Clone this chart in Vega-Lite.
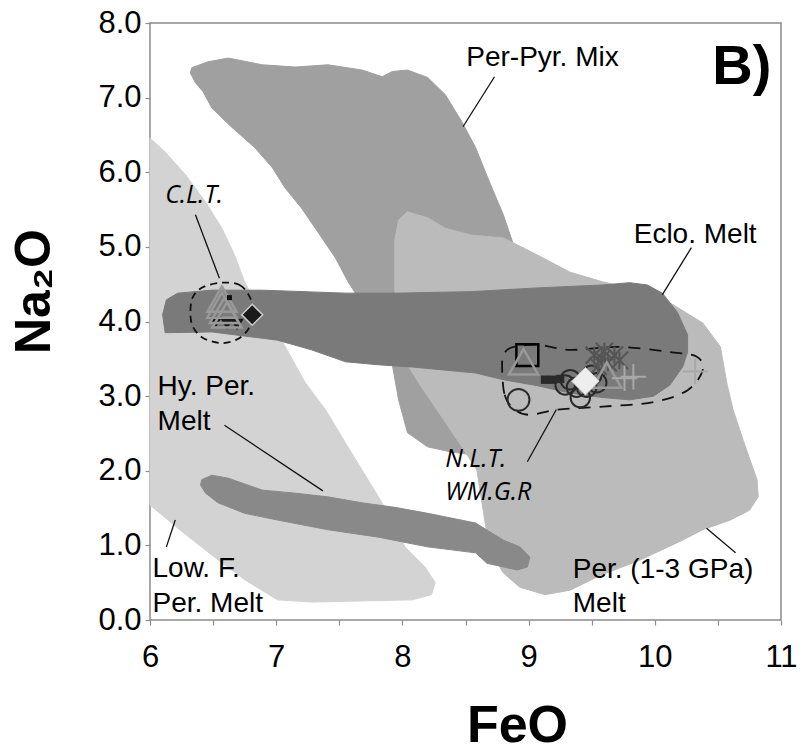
{
  "$schema": "https://vega.github.io/schema/vega-lite/v6.json",
  "width": 631,
  "height": 597,
  "autosize": {"type": "none"},
  "padding": {"left": 150, "top": 23, "right": 24, "bottom": 135},
  "background": "white",
  "config": {
    "view": {"stroke": "#8c8c8c", "strokeWidth": 1.5},
    "font": "Liberation Sans",
    "axis": {"grid": false, "domain": false, "tickColor": "#8c8c8c", "tickSize": 5, "tickWidth": 1.2, "labelColor": "#000000", "labelFont": "Liberation Sans", "labelFontSize": 31, "titleFont": "Liberation Sans", "titleFontWeight": "bold", "titleFontSize": 52, "titleColor": "#000000", "labelOverlap": false, "labelFlush": false}
  },
  "datasets": {
    "poly": [
      {"r":"LowF","i":0,"x":6.00,"y":6.46},{"r":"LowF","i":1,"x":6.12,"y":6.27},{"r":"LowF","i":2,"x":6.28,"y":5.97},{"r":"LowF","i":3,"x":6.44,"y":5.60},{"r":"LowF","i":4,"x":6.57,"y":5.25},{"r":"LowF","i":5,"x":6.67,"y":4.89},{"r":"LowF","i":6,"x":6.75,"y":4.53},{"r":"LowF","i":7,"x":6.89,"y":4.09},{"r":"LowF","i":8,"x":7.05,"y":3.73},{"r":"LowF","i":9,"x":7.23,"y":3.18},{"r":"LowF","i":10,"x":7.39,"y":2.82},{"r":"LowF","i":11,"x":7.55,"y":2.37},{"r":"LowF","i":12,"x":7.68,"y":2.01},{"r":"LowF","i":13,"x":7.81,"y":1.65},{"r":"LowF","i":14,"x":7.92,"y":1.34},{"r":"LowF","i":15,"x":8.02,"y":0.98},{"r":"LowF","i":16,"x":8.18,"y":0.71},{"r":"LowF","i":17,"x":8.26,"y":0.50},{"r":"LowF","i":18,"x":8.23,"y":0.34},{"r":"LowF","i":19,"x":8.08,"y":0.27},{"r":"LowF","i":20,"x":7.28,"y":0.24},{"r":"LowF","i":21,"x":7.01,"y":0.27},{"r":"LowF","i":22,"x":6.75,"y":0.54},{"r":"LowF","i":23,"x":6.49,"y":0.87},{"r":"LowF","i":24,"x":6.22,"y":1.23},{"r":"LowF","i":25,"x":6.00,"y":1.54},
      {"r":"PerPyr","i":0,"x":6.32,"y":7.33},{"r":"PerPyr","i":1,"x":6.33,"y":7.40},{"r":"PerPyr","i":2,"x":6.46,"y":7.48},{"r":"PerPyr","i":3,"x":6.62,"y":7.53},{"r":"PerPyr","i":4,"x":6.89,"y":7.44},{"r":"PerPyr","i":5,"x":7.15,"y":7.41},{"r":"PerPyr","i":6,"x":7.41,"y":7.44},{"r":"PerPyr","i":7,"x":7.68,"y":7.37},{"r":"PerPyr","i":8,"x":7.84,"y":7.28},{"r":"PerPyr","i":9,"x":7.92,"y":7.35},{"r":"PerPyr","i":10,"x":8.04,"y":7.37},{"r":"PerPyr","i":11,"x":8.20,"y":7.27},{"r":"PerPyr","i":12,"x":8.34,"y":7.04},{"r":"PerPyr","i":13,"x":8.47,"y":6.68},{"r":"PerPyr","i":14,"x":8.58,"y":6.33},{"r":"PerPyr","i":15,"x":8.69,"y":5.87},{"r":"PerPyr","i":16,"x":8.80,"y":5.43},{"r":"PerPyr","i":17,"x":8.88,"y":5.03},{"r":"PerPyr","i":18,"x":8.97,"y":4.42},{"r":"PerPyr","i":19,"x":9.01,"y":3.75},{"r":"PerPyr","i":20,"x":8.77,"y":2.95},{"r":"PerPyr","i":21,"x":8.58,"y":2.21},{"r":"PerPyr","i":22,"x":8.39,"y":2.25},{"r":"PerPyr","i":23,"x":8.20,"y":2.32},{"r":"PerPyr","i":24,"x":8.04,"y":2.51},{"r":"PerPyr","i":25,"x":7.97,"y":2.95},{"r":"PerPyr","i":26,"x":7.92,"y":3.42},{"r":"PerPyr","i":27,"x":7.74,"y":4.02},{"r":"PerPyr","i":28,"x":7.62,"y":4.40},{"r":"PerPyr","i":29,"x":7.57,"y":4.53},{"r":"PerPyr","i":30,"x":7.47,"y":4.85},{"r":"PerPyr","i":31,"x":7.33,"y":5.20},{"r":"PerPyr","i":32,"x":7.20,"y":5.52},{"r":"PerPyr","i":33,"x":7.07,"y":5.79},{"r":"PerPyr","i":34,"x":6.97,"y":6.06},{"r":"PerPyr","i":35,"x":6.83,"y":6.33},{"r":"PerPyr","i":36,"x":6.65,"y":6.60},{"r":"PerPyr","i":37,"x":6.49,"y":6.86},{"r":"PerPyr","i":38,"x":6.42,"y":7.08},{"r":"PerPyr","i":39,"x":6.36,"y":7.20},
      {"r":"Per13","i":0,"x":7.94,"y":4.42},{"r":"Per13","i":1,"x":7.94,"y":5.09},{"r":"Per13","i":2,"x":7.97,"y":5.36},{"r":"Per13","i":3,"x":8.04,"y":5.47},{"r":"Per13","i":4,"x":8.20,"y":5.39},{"r":"Per13","i":5,"x":8.34,"y":5.25},{"r":"Per13","i":6,"x":8.54,"y":5.16},{"r":"Per13","i":7,"x":8.80,"y":5.12},{"r":"Per13","i":8,"x":9.07,"y":4.89},{"r":"Per13","i":9,"x":9.33,"y":4.66},{"r":"Per13","i":10,"x":9.59,"y":4.53},{"r":"Per13","i":11,"x":9.88,"y":4.42},{"r":"Per13","i":12,"x":10.12,"y":4.25},{"r":"Per13","i":13,"x":10.38,"y":3.98},{"r":"Per13","i":14,"x":10.52,"y":3.66},{"r":"Per13","i":15,"x":10.57,"y":3.18},{"r":"Per13","i":16,"x":10.62,"y":2.82},{"r":"Per13","i":17,"x":10.70,"y":2.41},{"r":"Per13","i":18,"x":10.81,"y":1.88},{"r":"Per13","i":19,"x":10.82,"y":1.65},{"r":"Per13","i":20,"x":10.75,"y":1.47},{"r":"Per13","i":21,"x":10.60,"y":1.34},{"r":"Per13","i":22,"x":10.38,"y":1.21},{"r":"Per13","i":23,"x":10.22,"y":1.07},{"r":"Per13","i":24,"x":9.88,"y":0.80},{"r":"Per13","i":25,"x":9.57,"y":0.60},{"r":"Per13","i":26,"x":9.33,"y":0.40},{"r":"Per13","i":27,"x":9.13,"y":0.34},{"r":"Per13","i":28,"x":8.93,"y":0.44},{"r":"Per13","i":29,"x":8.80,"y":0.63},{"r":"Per13","i":30,"x":8.69,"y":0.94},{"r":"Per13","i":31,"x":8.64,"y":1.47},{"r":"Per13","i":32,"x":8.59,"y":2.01},{"r":"Per13","i":33,"x":8.46,"y":2.35},{"r":"Per13","i":34,"x":8.30,"y":2.75},{"r":"Per13","i":35,"x":8.14,"y":3.15},{"r":"Per13","i":36,"x":8.04,"y":3.42},{"r":"Per13","i":37,"x":7.98,"y":3.75},
      {"r":"HyPer","i":0,"x":6.41,"y":1.88},{"r":"HyPer","i":1,"x":6.49,"y":1.94},{"r":"HyPer","i":2,"x":6.62,"y":1.90},{"r":"HyPer","i":3,"x":6.89,"y":1.74},{"r":"HyPer","i":4,"x":7.15,"y":1.70},{"r":"HyPer","i":5,"x":7.41,"y":1.65},{"r":"HyPer","i":6,"x":7.68,"y":1.57},{"r":"HyPer","i":7,"x":7.94,"y":1.51},{"r":"HyPer","i":8,"x":8.20,"y":1.43},{"r":"HyPer","i":9,"x":8.58,"y":1.30},{"r":"HyPer","i":10,"x":8.80,"y":1.07},{"r":"HyPer","i":11,"x":8.93,"y":0.98},{"r":"HyPer","i":12,"x":9.01,"y":0.84},{"r":"HyPer","i":13,"x":8.99,"y":0.71},{"r":"HyPer","i":14,"x":8.91,"y":0.67},{"r":"HyPer","i":15,"x":8.67,"y":0.76},{"r":"HyPer","i":16,"x":8.58,"y":0.90},{"r":"HyPer","i":17,"x":8.20,"y":0.98},{"r":"HyPer","i":18,"x":7.81,"y":1.11},{"r":"HyPer","i":19,"x":7.41,"y":1.21},{"r":"HyPer","i":20,"x":7.01,"y":1.34},{"r":"HyPer","i":21,"x":6.75,"y":1.43},{"r":"HyPer","i":22,"x":6.54,"y":1.57},{"r":"HyPer","i":23,"x":6.44,"y":1.70},{"r":"HyPer","i":24,"x":6.40,"y":1.81},
      {"r":"Eclo","i":0,"x":6.13,"y":4.29},{"r":"Eclo","i":1,"x":6.22,"y":4.38},{"r":"Eclo","i":2,"x":6.49,"y":4.42},{"r":"Eclo","i":3,"x":6.89,"y":4.42},{"r":"Eclo","i":4,"x":7.55,"y":4.38},{"r":"Eclo","i":5,"x":7.94,"y":4.38},{"r":"Eclo","i":6,"x":8.54,"y":4.40},{"r":"Eclo","i":7,"x":9.07,"y":4.45},{"r":"Eclo","i":8,"x":9.59,"y":4.49},{"r":"Eclo","i":9,"x":9.80,"y":4.52},{"r":"Eclo","i":10,"x":9.94,"y":4.49},{"r":"Eclo","i":11,"x":10.06,"y":4.38},{"r":"Eclo","i":12,"x":10.18,"y":4.12},{"r":"Eclo","i":13,"x":10.26,"y":3.82},{"r":"Eclo","i":14,"x":10.26,"y":3.59},{"r":"Eclo","i":15,"x":10.22,"y":3.39},{"r":"Eclo","i":16,"x":10.12,"y":3.15},{"r":"Eclo","i":17,"x":9.99,"y":3.00},{"r":"Eclo","i":18,"x":9.80,"y":2.95},{"r":"Eclo","i":19,"x":9.59,"y":2.98},{"r":"Eclo","i":20,"x":9.33,"y":3.04},{"r":"Eclo","i":21,"x":9.07,"y":3.14},{"r":"Eclo","i":22,"x":8.80,"y":3.22},{"r":"Eclo","i":23,"x":8.58,"y":3.31},{"r":"Eclo","i":24,"x":8.08,"y":3.39},{"r":"Eclo","i":25,"x":7.81,"y":3.42},{"r":"Eclo","i":26,"x":7.55,"y":3.46},{"r":"Eclo","i":27,"x":7.28,"y":3.62},{"r":"Eclo","i":28,"x":7.01,"y":3.75},{"r":"Eclo","i":29,"x":6.49,"y":3.86},{"r":"Eclo","i":30,"x":6.12,"y":3.85},{"r":"Eclo","i":31,"x":6.10,"y":4.09},
      {"r":"CLTe","i":0,"x":6.57,"y":4.52},{"r":"CLTe","i":1,"x":6.71,"y":4.49},{"r":"CLTe","i":2,"x":6.79,"y":4.33},{"r":"CLTe","i":3,"x":6.82,"y":4.12},{"r":"CLTe","i":4,"x":6.79,"y":3.93},{"r":"CLTe","i":5,"x":6.71,"y":3.78},{"r":"CLTe","i":6,"x":6.57,"y":3.71},{"r":"CLTe","i":7,"x":6.42,"y":3.78},{"r":"CLTe","i":8,"x":6.34,"y":3.93},{"r":"CLTe","i":9,"x":6.32,"y":4.12},{"r":"CLTe","i":10,"x":6.34,"y":4.33},{"r":"CLTe","i":11,"x":6.42,"y":4.46},
      {"r":"NLTe","i":0,"x":8.79,"y":3.42},{"r":"NLTe","i":1,"x":8.81,"y":3.02},{"r":"NLTe","i":2,"x":8.89,"y":2.82},{"r":"NLTe","i":3,"x":9.01,"y":2.75},{"r":"NLTe","i":4,"x":9.23,"y":2.82},{"r":"NLTe","i":5,"x":9.59,"y":2.86},{"r":"NLTe","i":6,"x":9.99,"y":2.92},{"r":"NLTe","i":7,"x":10.26,"y":3.08},{"r":"NLTe","i":8,"x":10.38,"y":3.35},{"r":"NLTe","i":9,"x":10.33,"y":3.53},{"r":"NLTe","i":10,"x":10.12,"y":3.59},{"r":"NLTe","i":11,"x":9.72,"y":3.66},{"r":"NLTe","i":12,"x":9.33,"y":3.62},{"r":"NLTe","i":13,"x":9.07,"y":3.69},{"r":"NLTe","i":14,"x":8.88,"y":3.66},{"r":"NLTe","i":15,"x":8.81,"y":3.58}
    ],
    "lead": [
      {"id":1,"i":0,"x":8.73,"y":7.28},{"id":1,"i":1,"x":8.48,"y":6.61},
      {"id":2,"i":0,"x":10.29,"y":4.99},{"id":2,"i":1,"x":10.06,"y":4.36},
      {"id":3,"i":0,"x":6.36,"y":5.43},{"id":3,"i":1,"x":6.55,"y":4.58},
      {"id":4,"i":0,"x":6.59,"y":2.61},{"id":4,"i":1,"x":7.37,"y":1.73},
      {"id":5,"i":0,"x":6.20,"y":1.34},{"id":5,"i":1,"x":6.13,"y":0.98},
      {"id":6,"i":0,"x":10.41,"y":1.23},{"id":6,"i":1,"x":10.64,"y":0.90},
      {"id":7,"i":0,"x":8.99,"y":2.12},{"id":7,"i":1,"x":9.22,"y":2.82}
    ],
    "pts": [
      {"k":"dcirc","x":9.33,"y":3.22},{"k":"dcirc","x":9.38,"y":3.12},{"k":"dcirc","x":9.46,"y":3.12},{"k":"dcirc","x":9.54,"y":3.18},{"k":"dcirc","x":9.41,"y":2.98},{"k":"dcirc","x":9.29,"y":3.15},{"k":"dcirc","x":9.50,"y":3.28},
      {"k":"dsq","x":9.13,"y":3.22},{"k":"dsq","x":9.19,"y":3.22},{"k":"dsq","x":9.25,"y":3.23},
      {"k":"xx","x":9.52,"y":3.55},{"k":"xx","x":9.58,"y":3.50},{"k":"xx","x":9.63,"y":3.45},{"k":"xx","x":9.68,"y":3.55},{"k":"xx","x":9.55,"y":3.40},{"k":"xx","x":9.72,"y":3.48},{"k":"xx","x":9.60,"y":3.60},
      {"k":"ocirc","x":8.92,"y":2.95},
      {"k":"bsq","x":8.99,"y":3.55},
      {"k":"btri","x":6.52,"y":3.99},{"k":"btri","x":6.69,"y":3.96},{"k":"btri","x":6.61,"y":3.97},
      {"k":"gtri","x":6.57,"y":4.30},{"k":"gtri","x":6.57,"y":4.22},{"k":"gtri","x":6.59,"y":4.15},{"k":"gtri","x":6.61,"y":4.09},{"k":"gtri","x":8.96,"y":3.46},{"k":"gtri","x":9.62,"y":3.28},
      {"k":"bdia","x":6.81,"y":4.09},
      {"k":"bdot","x":6.63,"y":4.32},
      {"k":"wdia","x":9.45,"y":3.20},
      {"k":"gplus","x":9.76,"y":3.24},{"k":"gplus","x":9.83,"y":3.26},{"k":"gplus","x":10.32,"y":3.33}
    ],
    "txt": [
      {"s":"left","t":"Hy. Per.","x":6.06,"y":3.02},{"s":"left","t":"Melt","x":6.06,"y":2.55},
      {"s":"left","t":"Low. F.","x":6.02,"y":0.58},{"s":"left","t":"Per. Melt","x":6.02,"y":0.11},
      {"s":"left","t":"Per. (1-3 GPa)","x":9.35,"y":0.56},{"s":"left","t":"Melt","x":9.35,"y":0.11},
      {"s":"center","t":"Per-Pyr. Mix","x":9.11,"y":7.43},{"s":"center","t":"Eclo. Melt","x":10.32,"y":5.05},
      {"s":"ital","t":"C.L.T.","x":6.12,"y":5.59},{"s":"ital","t":"N.L.T.","x":8.34,"y":2.05},{"s":"ital","t":"WM.G.R","x":8.34,"y":1.61},
      {"s":"bold","t":"B)","x":10.69,"y":7.18}
    ]
  },
  "encoding": {
    "x": {"field": "x", "type": "quantitative", "scale": {"domain": [6, 11], "nice": false, "zero": false},
      "axis": {"values": [6, 6.5, 7, 7.5, 8, 8.5, 9, 9.5, 10, 10.5, 11], "labelExpr": "datum.value % 1 === 0 ? format(datum.value, 'd') : ''", "labelPadding": 17, "title": "FeO", "titleX": 367, "titleY": 105, "titleBaseline": "middle", "titleAlign": "center"}},
    "y": {"field": "y", "type": "quantitative", "scale": {"domain": [0, 8], "nice": false, "zero": false},
      "axis": {"values": [0, 1, 2, 3, 4, 5, 6, 7, 8], "format": ".1f", "labelPadding": 4, "title": "Na₂O", "titleFontSize": 50, "titleX": -116, "titleY": 268, "titleBaseline": "middle", "titleAlign": "center", "titleAngle": -90}}
  },
  "layer": [
    {"data": {"name": "poly"}, "transform": [{"filter": "datum.r === 'LowF'"}], "mark": {"type": "line", "interpolate": "linear-closed", "fill": "#d3d3d3", "stroke": "#d3d3d3", "strokeWidth": 1}, "encoding": {"order": {"field": "i", "type": "quantitative"}}},
    {"data": {"name": "poly"}, "transform": [{"filter": "datum.r === 'PerPyr'"}], "mark": {"type": "line", "interpolate": "linear-closed", "fill": "#a0a0a0", "stroke": "#a0a0a0", "strokeWidth": 1}, "encoding": {"order": {"field": "i", "type": "quantitative"}}},
    {"data": {"name": "poly"}, "transform": [{"filter": "datum.r === 'Per13'"}], "mark": {"type": "line", "interpolate": "linear-closed", "fill": "#bbbbbb", "stroke": "#bbbbbb", "strokeWidth": 1}, "encoding": {"order": {"field": "i", "type": "quantitative"}}},
    {"data": {"name": "poly"}, "transform": [{"filter": "datum.r === 'HyPer'"}], "mark": {"type": "line", "interpolate": "linear-closed", "fill": "#898989", "stroke": "#898989", "strokeWidth": 1}, "encoding": {"order": {"field": "i", "type": "quantitative"}}},
    {"data": {"name": "poly"}, "transform": [{"filter": "datum.r === 'Eclo'"}], "mark": {"type": "line", "interpolate": "linear-closed", "fill": "#7a7a7a", "stroke": "#7a7a7a", "strokeWidth": 1}, "encoding": {"order": {"field": "i", "type": "quantitative"}}},
    {"data": {"name": "poly"}, "transform": [{"filter": "datum.r === 'CLTe'"}], "mark": {"type": "line", "interpolate": "cardinal-closed", "stroke": "#111111", "strokeWidth": 1.8, "strokeDash": [7, 5]}, "encoding": {"order": {"field": "i", "type": "quantitative"}}},
    {"data": {"name": "poly"}, "transform": [{"filter": "datum.r === 'NLTe'"}], "mark": {"type": "line", "interpolate": "cardinal-closed", "stroke": "#111111", "strokeWidth": 1.8, "strokeDash": [12, 9]}, "encoding": {"order": {"field": "i", "type": "quantitative"}}},
    {"data": {"name": "lead"}, "mark": {"type": "line", "stroke": "#111111", "strokeWidth": 1.3}, "encoding": {"detail": {"field": "id", "type": "nominal"}, "order": {"field": "i", "type": "quantitative"}}},
    {"data": {"name": "pts"}, "transform": [{"filter": "datum.k === 'dcirc'"}], "mark": {"type": "point", "shape": "circle", "size": 380, "filled": false, "stroke": "#2a2a2a", "strokeWidth": 2, "opacity": 1}},
    {"data": {"name": "pts"}, "transform": [{"filter": "datum.k === 'dsq'"}], "mark": {"type": "point", "shape": "square", "size": 70, "filled": true, "fill": "#2a2a2a", "opacity": 1}},
    {"data": {"name": "pts"}, "transform": [{"filter": "datum.k === 'xx'"}], "mark": {"type": "point", "shape": "M-1,-1L1,1M-1,1L1,-1M0,-1L0,1", "size": 300, "filled": false, "stroke": "#555555", "strokeWidth": 2, "opacity": 1}},
    {"data": {"name": "pts"}, "transform": [{"filter": "datum.k === 'ocirc'"}], "mark": {"type": "point", "shape": "circle", "size": 480, "filled": false, "stroke": "#2a2a2a", "strokeWidth": 2, "opacity": 1}},
    {"data": {"name": "pts"}, "transform": [{"filter": "datum.k === 'bsq'"}], "mark": {"type": "point", "shape": "square", "size": 480, "filled": false, "stroke": "#000000", "strokeWidth": 2.5, "opacity": 1}},
    {"data": {"name": "pts"}, "transform": [{"filter": "datum.k === 'btri'"}], "mark": {"type": "point", "shape": "triangle-down", "size": 180, "filled": true, "fill": "#1a1a1a", "opacity": 1}},
    {"data": {"name": "pts"}, "transform": [{"filter": "datum.k === 'gtri'"}], "mark": {"type": "point", "shape": "triangle-up", "size": 850, "filled": false, "stroke": "#999999", "strokeWidth": 2.5, "opacity": 1}},
    {"data": {"name": "pts"}, "transform": [{"filter": "datum.k === 'bdia'"}], "mark": {"type": "point", "shape": "diamond", "size": 440, "filled": true, "fill": "#1a1a1a", "stroke": "#cccccc", "strokeWidth": 1.5, "opacity": 1}},
    {"data": {"name": "pts"}, "transform": [{"filter": "datum.k === 'bdot'"}], "mark": {"type": "point", "shape": "square", "size": 25, "filled": true, "fill": "#111111", "opacity": 1}},
    {"data": {"name": "pts"}, "transform": [{"filter": "datum.k === 'wdia'"}], "mark": {"type": "point", "shape": "diamond", "size": 760, "filled": true, "fill": "#eeeeee", "stroke": "#cfcfcf", "strokeWidth": 1, "opacity": 1}},
    {"data": {"name": "pts"}, "transform": [{"filter": "datum.k === 'gplus'"}], "mark": {"type": "point", "shape": "M-1,0L1,0M0,-1L0,1", "size": 650, "filled": false, "stroke": "#a8a8a8", "strokeWidth": 2, "opacity": 1}},
    {"data": {"name": "txt"}, "transform": [{"filter": "datum.s === 'left'"}], "mark": {"type": "text", "align": "left", "baseline": "alphabetic", "font": "Liberation Sans", "fontSize": 28, "color": "#000000"}, "encoding": {"text": {"field": "t"}}},
    {"data": {"name": "txt"}, "transform": [{"filter": "datum.s === 'center'"}], "mark": {"type": "text", "align": "center", "baseline": "alphabetic", "font": "Liberation Sans", "fontSize": 28, "color": "#000000"}, "encoding": {"text": {"field": "t"}}},
    {"data": {"name": "txt"}, "transform": [{"filter": "datum.s === 'ital'"}], "mark": {"type": "text", "align": "left", "baseline": "alphabetic", "font": "Open Sans", "fontStyle": "italic", "fontSize": 25, "color": "#000000"}, "encoding": {"text": {"field": "t"}}},
    {"data": {"name": "txt"}, "transform": [{"filter": "datum.s === 'bold'"}], "mark": {"type": "text", "align": "center", "baseline": "alphabetic", "font": "Liberation Sans", "fontWeight": "bold", "fontSize": 56, "color": "#000000"}, "encoding": {"text": {"field": "t"}}}
  ]
}
